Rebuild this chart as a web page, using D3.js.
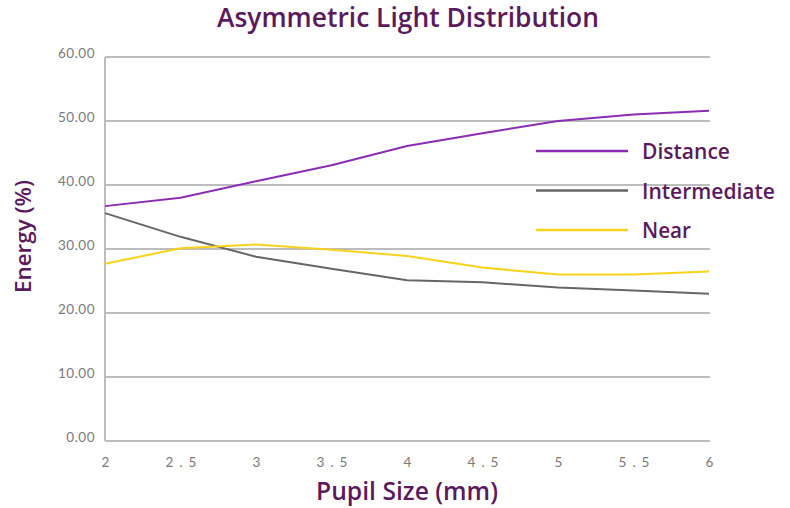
<!DOCTYPE html>
<html><head><meta charset="utf-8">
<script src="https://cdn.jsdelivr.net/npm/d3@7"></script>
<style>body{margin:0;background:#fff;} svg{display:block;}</style>
</head><body>
<svg id="chart" width="790" height="508"></svg>
<script>
const pupilSizes = [2, 2.5, 3, 3.5, 4, 4.5, 5, 5.5, 6];
const xTickLabels = ["2", "2.5", "3", "3.5", "4", "4.5", "5", "5.5", "6"];
const yTicks = [0, 10, 20, 30, 40, 50, 60];
const distance = [36.7, 38.0, 40.6, 43.1, 46.1, 48.1, 50.0, 51.0, 51.6];
const intermediate = [35.6, 31.9, 28.8, 26.9, 25.1, 24.8, 24.0, 23.5, 23.0];
const near = [27.7, 30.1, 30.7, 29.9, 28.9, 27.1, 26.0, 26.0, 26.5];
const seriesNames = ["Distance", "Intermediate", "Near"];
const seriesValues = [distance, intermediate, near];
const seriesColors = ["#8b2db3", "#666666", "#f8d31c"];

const svg = d3.select("#chart");
const font = "Lato, 'Noto Sans', sans-serif";
const headFont = "'Open Sans', 'Noto Sans', sans-serif";
const dark = "#5b1a5b";
const x = d3.scaleLinear().domain([2, 6]).range([105, 709]);
const y = d3.scaleLinear().domain([0, 60]).range([441, 57]);

// scale font-size of a text so its width matches a target
function fit(sel, target) {
  sel.each(function() {
    const fs = parseFloat(this.getAttribute("font-size"));
    const w = this.getComputedTextLength();
    if (w > 0) this.setAttribute("font-size", (fs * target / w).toFixed(2));
  });
}

// gridlines
svg.append("g").selectAll("line").data(yTicks).join("line")
  .attr("x1", 105).attr("x2", 710)
  .attr("y1", d => y(d)).attr("y2", d => y(d))
  .attr("stroke", "#bdbdbd").attr("stroke-width", 2);
svg.append("line").attr("x1", 105).attr("x2", 105).attr("y1", y(60)).attr("y2", y(0))
  .attr("stroke", "#bdbdbd").attr("stroke-width", 2);

// y axis labels
const yAxis = d3.axisLeft(y).tickValues(yTicks).tickFormat(d3.format(".2f")).tickSize(0).tickPadding(0);
const gy = svg.append("g").attr("transform", "translate(95,0)").call(yAxis);
gy.select(".domain").remove();
gy.selectAll("text").attr("font-family", font).attr("font-size", 13.5).attr("fill", "#7a7a7a")
  .attr("dy", "0").attr("y", 0).attr("letter-spacing", "0.5px");

// x axis labels
const xAxis = d3.axisBottom(x).tickValues(pupilSizes).tickFormat((d, i) => xTickLabels[i]).tickSize(0).tickPadding(0);
const gx = svg.append("g").attr("transform", "translate(0,467)").call(xAxis);
gx.select(".domain").remove();
gx.selectAll("text").attr("font-family", font).attr("font-size", 13.5).attr("fill", "#7a7a7a")
  .attr("dy", "0").attr("y", 0).attr("letter-spacing", "6px").attr("dx", "3px");

// lines
const line = d3.line().x((d, i) => x(pupilSizes[i])).y(d => y(d));
svg.append("g").selectAll("path").data(seriesValues).join("path")
  .attr("d", d => line(d)).attr("fill", "none")
  .attr("stroke", (d, i) => seriesColors[i]).attr("stroke-width", 2);

// legend
const legendTargets = [88, 133, 49];
const lg = svg.append("g").selectAll("g").data(seriesNames).join("g")
  .attr("transform", (d, i) => `translate(0,${151 + i * 39.5})`);
lg.append("line").attr("x1", 536).attr("x2", 628).attr("y1", 0).attr("y2", 0)
  .attr("stroke", (d, i) => seriesColors[i]).attr("stroke-width", 2.5);
const lt = lg.append("text").attr("x", 642).attr("y", 8).text(d => d)
  .attr("font-family", headFont).attr("font-size", 19).attr("font-weight", 600).attr("fill", dark);
lt.each(function(d, i) { fit(d3.select(this), legendTargets[i]); });

// title
const title = svg.append("text").attr("x", 408).attr("y", 27).attr("text-anchor", "middle")
  .attr("font-family", headFont).attr("font-size", 23).attr("font-weight", 600).attr("fill", dark)
  .text("Asymmetric Light Distribution");
fit(title, 382);
// axis titles
const xt = svg.append("text").attr("x", 407).attr("y", 500).attr("text-anchor", "middle")
  .attr("font-family", headFont).attr("font-size", 21).attr("font-weight", 600).attr("fill", dark)
  .text("Pupil Size (mm)");
fit(xt, 182);
const yt = svg.append("text").attr("transform", "translate(31,236.5) rotate(-90)").attr("text-anchor", "middle")
  .attr("font-family", headFont).attr("font-size", 18).attr("font-weight", 600).attr("fill", dark)
  .text("Energy (%)");
fit(yt, 113);
</script>
</body></html>
